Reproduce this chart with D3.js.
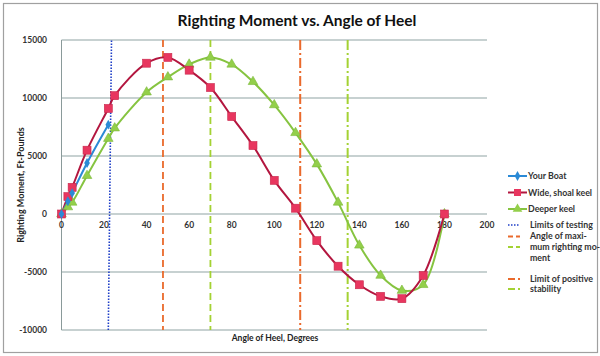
<!DOCTYPE html>
<html><head><meta charset="utf-8">
<script src="https://cdn.jsdelivr.net/npm/d3@7"></script>
<style>
body{margin:0;background:#fff;}
svg{display:block;font-family:Lato,"Open Sans",sans-serif;}
</style></head><body>
<svg id="c" width="600" height="356"></svg>
<script>
const title = "Righting Moment vs. Angle of Heel";
const xTitle = "Angle of Heel, Degrees";
const yTitle = "Righting Moment, Ft-Pounds";
const xTicks = [0,20,40,60,80,100,120,140,160,180,200];
const yTicks = [-10000,-5000,0,5000,10000,15000];

const yourBoatX = [0,3,5,12,22];
const yourBoatY = [0,1100,1800,4400,7700];
const shoalX = [0,3,5,12,22,25,40,50,60,70,80,90,100,110,120,130,140,150,160,170,180];
const shoalY = [0,1500,2300,5500,9100,10200,13000,13500,12400,10900,8400,5900,2900,500,-2300,-4500,-6100,-7100,-7300,-5300,0];
const deepX = [0,3,5,12,22,25,40,50,60,70,80,90,100,110,120,130,140,150,160,170,180];
const deepY = [0,600,1000,3300,6500,7400,10500,11800,12900,13500,12900,11400,9400,7000,4300,1000,-2700,-5300,-6600,-6100,0];

const testLimitX = [22,23.5];
const testLimitY = [-10000,15000];
const maxAngleShoal = 47.7;
const maxAngleDeep = 70;
const posLimitShoal = 112.2;
const posLimitDeep = 134.5;

const svg = d3.select("#c");
svg.append("rect").attr("x",3.5).attr("y",3.5).attr("width",594).attr("height",349)
  .attr("fill","#fff").attr("stroke","#a0a0a0").attr("stroke-width",1.2);

const x = d3.scaleLinear().domain([0,200]).range([61.5,487]);
const y = d3.scaleLinear().domain([-10000,15000]).range([330,40]);

// gridlines
svg.append("g").selectAll("line").data(yTicks).join("line")
  .attr("x1",x(0)).attr("x2",x(200)).attr("y1",d=>y(d)).attr("y2",d=>y(d))
  .attr("stroke","#8fa3a3").attr("stroke-width",1);
// y axis line
svg.append("line").attr("x1",x(0)).attr("x2",x(0)).attr("y1",y(15000)).attr("y2",y(-10000))
  .attr("stroke","#8a9a9a").attr("stroke-width",1);

// y tick labels
svg.append("g").selectAll("text").data(yTicks).join("text")
  .attr("x",47).attr("y",d=>y(d)+3).attr("text-anchor","end")
  .attr("font-size",8.5).attr("font-weight","bold").attr("fill","#333")
  .text(d=>d);
// x tick labels
svg.append("g").selectAll("text").data(xTicks).join("text")
  .attr("x",d=>x(d)).attr("y",y(0)+14).attr("text-anchor","middle")
  .attr("font-size",8.5).attr("font-weight","bold").attr("fill","#333")
  .text(d=>d);

// titles
svg.append("text").attr("x",297).attr("y",26).attr("text-anchor","middle")
  .attr("font-size",15.5).attr("font-weight","bold").attr("fill","#111").text(title);
svg.append("text").attr("x",275).attr("y",341).attr("text-anchor","middle")
  .attr("font-size",8.5).attr("font-weight","bold").attr("fill","#222").text(xTitle);
svg.append("text").attr("transform","translate(24,185) rotate(-90)").attr("text-anchor","middle")
  .attr("font-size",9).attr("font-weight","bold").attr("fill","#222").text(yTitle);

// vertical reference lines
const vline = (xv, color, dash, w) => svg.append("line")
  .attr("x1",x(xv)).attr("x2",x(xv)).attr("y1",y(15000)).attr("y2",y(-10000))
  .attr("stroke",color).attr("stroke-width",w).attr("stroke-dasharray",dash);
svg.append("line").attr("x1",x(testLimitX[0])).attr("y1",y(testLimitY[0]))
  .attr("x2",x(testLimitX[1])).attr("y2",y(testLimitY[1]))
  .attr("stroke","#1f3fc8").attr("stroke-width",1.6).attr("stroke-dasharray","1.5,1.5");
vline(maxAngleShoal,"#ea6a2c","7,4",1.8);
vline(maxAngleDeep,"#a4d233","7,4",1.8);
vline(posLimitShoal,"#ea6a2c","10,3,2,3",2);
vline(posLimitDeep,"#a4d233","10,3,2,3",2);

const line = d3.line().x(d=>x(d[0])).y(d=>y(d[1])).curve(d3.curveCatmullRom.alpha(0.5));
const zip = (a,b)=>a.map((v,i)=>[v,b[i]]);

const shoal = zip(shoalX,shoalY), deep = zip(deepX,deepY), yb = zip(yourBoatX,yourBoatY);

svg.append("path").attr("d",line(deep)).attr("fill","none").attr("stroke","#86c440").attr("stroke-width",2);
svg.append("path").attr("d",line(shoal)).attr("fill","none").attr("stroke","#b3163f").attr("stroke-width",2);
svg.append("path").attr("d",line(yb)).attr("fill","none").attr("stroke","#2b8ad6").attr("stroke-width",2);

const tri = d3.symbol().type(d3.symbolTriangle).size(40);
svg.append("g").selectAll("path").data(deep).join("path")
  .attr("transform",d=>`translate(${x(d[0])},${y(d[1])})`).attr("d",tri)
  .attr("fill","#93cf4a").attr("stroke","#7ab83a").attr("stroke-width",0.6);
svg.append("g").selectAll("rect").data(shoal).join("rect")
  .attr("x",d=>x(d[0])-4).attr("y",d=>y(d[1])-4).attr("width",8).attr("height",8)
  .attr("fill","#e8365f").attr("stroke","#c8284c").attr("stroke-width",0.6);
const dia = d3.symbol().type(d3.symbolDiamond).size(28);
svg.append("g").selectAll("path").data(yb).join("path")
  .attr("transform",d=>`translate(${x(d[0])},${y(d[1])})`).attr("d",dia)
  .attr("fill","#2b8ad6");

// legend
const lg = svg.append("g").attr("font-size",8.8).attr("font-weight","bold").attr("fill","#333");
const lx1 = 508, lx2 = 527;
function seriesItem(yy, color, markerFn, label){
  lg.append("line").attr("x1",lx1).attr("x2",lx2).attr("y1",yy).attr("y2",yy).attr("stroke",color).attr("stroke-width",2);
  markerFn(517.5, yy);
  lg.append("text").attr("x",528).attr("y",yy+3).text(label);
}
seriesItem(176,"#2b8ad6",(cx,cy)=>lg.append("path").attr("transform",`translate(${cx},${cy})`).attr("d",dia).attr("fill","#2b8ad6"),"Your Boat");
seriesItem(192.5,"#b3163f",(cx,cy)=>lg.append("rect").attr("x",cx-3.5).attr("y",cy-3.5).attr("width",7).attr("height",7).attr("fill","#e8365f"),"Wide, shoal keel");
seriesItem(209,"#86c440",(cx,cy)=>lg.append("path").attr("transform",`translate(${cx},${cy})`).attr("d",tri).attr("fill","#93cf4a"),"Deeper keel");

function refItem(yy, color, dash, w){
  lg.append("line").attr("x1",508).attr("x2",520).attr("y1",yy).attr("y2",yy)
    .attr("stroke",color).attr("stroke-width",w).attr("stroke-dasharray",dash);
}
refItem(225,"#1f3fc8","1.5,1.5",1.6);
lg.append("text").attr("x",530).attr("y",228).text("Limits of testing");
refItem(236.5,"#ea6a2c","5,3",1.8);
refItem(247,"#a4d233","5,3",1.8);
lg.append("text").attr("x",530).attr("y",239).text("Angle of maxi-");
lg.append("text").attr("x",530).attr("y",250).text("mum righting mo-");
lg.append("text").attr("x",530).attr("y",260.5).text("ment");
refItem(279,"#ea6a2c","7,3,2,3",2);
refItem(289,"#a4d233","7,3,2,3",2);
lg.append("text").attr("x",530).attr("y",282).text("Limit of positive");
lg.append("text").attr("x",530).attr("y",292).text("stability");
</script>
</body></html>
